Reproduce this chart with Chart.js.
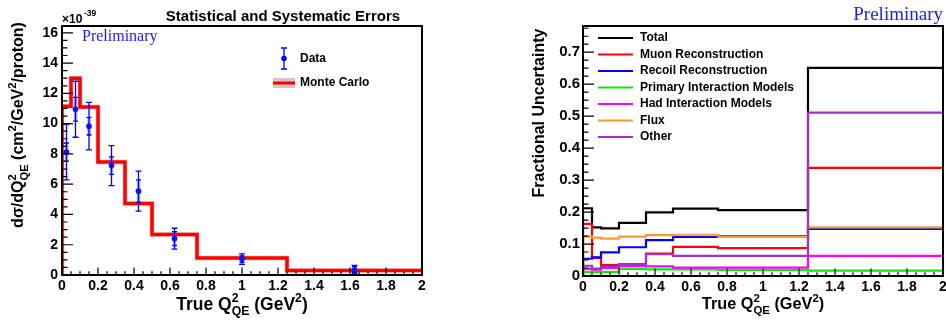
<!DOCTYPE html>
<html>
<head>
<meta charset="utf-8">
<script src="https://cdn.jsdelivr.net/npm/chart.js@4.4.0/dist/chart.umd.min.js"></script>
<style>
  html, body { margin: 0; padding: 0; background: #fff; overflow: hidden; width: 946px; height: 320px; }
  #left { position: absolute; left: 0; top: 0; }
  #right { position: absolute; left: 473px; top: 0; }
</style>
</head>
<body>
<canvas id="left" width="473" height="320"></canvas>
<canvas id="right" width="480" height="320"></canvas>
<script>
// bins in true Q2_QE (GeV^2)
var binEdges = [0, 0.05, 0.1, 0.2, 0.35, 0.5, 0.75, 1.25, 2.0];

// left: cross section, units of 1e-39 cm2/GeV2/proton
var mcXsec   = [11.15, 13.0, 11.1, 7.47, 4.73, 2.67, 1.13, 0.3];
var dataQ2   = [0.025, 0.075, 0.15, 0.275, 0.425, 0.625, 1.0, 1.625];
var dataXsec = [8.12, 10.95, 9.83, 7.23, 5.54, 2.4, 1.05, 0.35];
var totErr   = [1.83, 1.85, 1.57, 1.32, 1.32, 0.69, 0.35, 0.29];
var statErr  = [0.6, 0.78, 0.58, 0.58, 0.74, 0.46, 0.22, 0.2];

// right: fractional uncertainties per bin
var totalUnc   = [0.212, 0.152, 0.149, 0.166, 0.199, 0.211, 0.206, 0.651];
var muonUnc    = [0.163, 0.057, 0.034, 0.035, 0.070, 0.091, 0.087, 0.338];
var recoilUnc  = [0.054, 0.058, 0.074, 0.090, 0.112, 0.122, 0.125, 0.147];
var primaryUnc = [0.013, 0.013, 0.013, 0.022, 0.021, 0.021, 0.019, 0.017];
var hadUnc     = [0.022, 0.020, 0.025, 0.031, 0.030, 0.026, 0.026, 0.063];
var fluxUnc    = [0.123, 0.120, 0.117, 0.123, 0.128, 0.129, 0.123, 0.152];
var otherUnc   = [0.032, 0.023, 0.029, 0.037, 0.068, 0.063, 0.063, 0.511];

var uncNames  = ['Total', 'Muon Reconstruction', 'Recoil Reconstruction', 'Primary Interaction Models',
                 'Had Interaction Models', 'Flux', 'Other'];
var uncSeries = [totalUnc, muonUnc, recoilUnc, primaryUnc, hadUnc, fluxUnc, otherUnc];
var uncColors = ['#000000', '#ff0000', '#0000ff', '#00ee00', '#ff00ff', '#ff9933', '#9933cc'];

var xTicks = [0, 2, 0.2];

function histPoints(edges, vals) {
  var pts = [{x: edges[0], y: 0}];
  for (var i = 0; i < vals.length; i++) {
    pts.push({x: edges[i], y: vals[i]});
  }
  pts.push({x: edges[edges.length - 1], y: vals[vals.length - 1]});
  return pts;
}

function boldFont(size) {
  return 'bold ' + size + 'px "Liberation Sans", Arial, sans-serif';
}

// text with ROOT style stacked super/subscripts
function drawRich(ctx, parts, x, y, size, align) {
  var w = 0;
  parts.forEach(function(p) {
    ctx.font = boldFont(size);
    w += ctx.measureText(p.t).width;
    ctx.font = boldFont(size * 0.7);
    var ws = p.sup ? ctx.measureText(p.sup).width : 0;
    var wb = p.sub ? ctx.measureText(p.sub).width : 0;
    w += Math.max(ws, wb);
  });
  var cx = align == 'center' ? x - w / 2 : x;
  ctx.textAlign = 'left';
  ctx.textBaseline = 'alphabetic';
  parts.forEach(function(p) {
    ctx.font = boldFont(size);
    ctx.fillText(p.t, cx, y);
    cx += ctx.measureText(p.t).width;
    ctx.font = boldFont(size * 0.7);
    var ws = 0, wb = 0;
    if (p.sup) { ctx.fillText(p.sup, cx, y - size * 0.45); ws = ctx.measureText(p.sup).width; }
    if (p.sub) { ctx.fillText(p.sub, cx, y + size * 0.3); wb = ctx.measureText(p.sub).width; }
    cx += Math.max(ws, wb);
  });
}

// inward ticks + frame, like ROOT
var rootFrame = {
  id: 'rootFrame',
  afterDatasetsDraw: function(chart, args, opts) {
    var ctx = chart.ctx, a = chart.chartArea;
    var xs = chart.scales.x, ys = chart.scales.y;
    ctx.save();
    ctx.strokeStyle = '#000';
    ctx.lineWidth = 1.2;
    ctx.beginPath();
    for (var i = 0; i <= 40; i++) {
      var px = xs.getPixelForValue(i * 0.05);
      var len = i % 4 == 0 ? 7.5 : 3.8;
      ctx.moveTo(px, a.bottom);
      ctx.lineTo(px, a.bottom - len);
    }
    for (var j = 0; j <= opts.yCount; j++) {
      var v = j * opts.yMinor;
      if (v > ys.max) break;
      var py = ys.getPixelForValue(v);
      var l2 = j % 4 == 0 ? 11 : 5.5;
      ctx.moveTo(a.left, py);
      ctx.lineTo(a.left + l2, py);
    }
    ctx.stroke();
    ctx.lineWidth = 2;
    ctx.strokeRect(a.left, a.top, a.right - a.left, a.bottom - a.top);
    ctx.restore();
  }
};

var errorBars = {
  id: 'errorBars',
  afterDatasetsDraw: function(chart) {
    var ctx = chart.ctx;
    var xs = chart.scales.x, ys = chart.scales.y;
    ctx.save();
    for (var i = 0; i < dataQ2.length; i++) {
      var px = xs.getPixelForValue(dataQ2[i]);
      var t1 = ys.getPixelForValue(dataXsec[i] + totErr[i]);
      var t2 = ys.getPixelForValue(dataXsec[i] - totErr[i]);
      var s1 = ys.getPixelForValue(dataXsec[i] + statErr[i]);
      var s2 = ys.getPixelForValue(dataXsec[i] - statErr[i]);
      ctx.strokeStyle = 'rgba(70,70,255,0.45)';
      ctx.lineWidth = 3.5;
      ctx.beginPath();
      ctx.moveTo(px, s1); ctx.lineTo(px, s2);
      ctx.stroke();
      ctx.strokeStyle = '#0000ff';
      ctx.lineWidth = 1.3;
      ctx.beginPath();
      ctx.moveTo(px, t1); ctx.lineTo(px, t2);
      ctx.moveTo(px - 3, t1); ctx.lineTo(px + 3, t1);
      ctx.moveTo(px - 3, t2); ctx.lineTo(px + 3, t2);
      ctx.moveTo(px - 2.5, s1); ctx.lineTo(px + 2.5, s1);
      ctx.moveTo(px - 2.5, s2); ctx.lineTo(px + 2.5, s2);
      ctx.stroke();
    }
    ctx.restore();
  }
};

var leftText = {
  id: 'leftText',
  afterDraw: function(chart) {
    var ctx = chart.ctx;
    ctx.save();
    ctx.fillStyle = '#000';
    ctx.font = boldFont(15);
    ctx.textAlign = 'center';
    ctx.textBaseline = 'alphabetic';
    ctx.fillText('Statistical and Systematic Errors', 283, 21);

    ctx.font = boldFont(12);
    ctx.textAlign = 'left';
    ctx.fillText('\u00d710', 62, 23);
    ctx.font = boldFont(8.5);
    ctx.fillText('-39', 84, 16);

    ctx.fillStyle = '#1a1aff';
    ctx.font = '16px "Liberation Serif", serif';
    ctx.fillText('Preliminary', 82, 41);

    // legend
    ctx.fillStyle = '#0000ff';
    ctx.strokeStyle = '#0000ff';
    ctx.lineWidth = 1.3;
    ctx.beginPath();
    ctx.moveTo(284, 48); ctx.lineTo(284, 69);
    ctx.moveTo(281, 48); ctx.lineTo(287, 48);
    ctx.moveTo(281, 69); ctx.lineTo(287, 69);
    ctx.stroke();
    ctx.beginPath();
    ctx.arc(284, 58.5, 2.8, 0, Math.PI * 2);
    ctx.fill();
    ctx.fillStyle = '#e6c0c0';
    ctx.fillRect(273, 78, 22, 10);
    ctx.strokeStyle = '#ff0000';
    ctx.lineWidth = 3;
    ctx.beginPath();
    ctx.moveTo(273, 83); ctx.lineTo(295, 83);
    ctx.stroke();
    ctx.fillStyle = '#000';
    ctx.font = boldFont(12);
    ctx.textBaseline = 'middle';
    ctx.fillText('Data', 300, 59);
    ctx.fillText('Monte Carlo', 300, 83);

    drawRich(ctx, [{t: 'True Q', sup: '2', sub: 'QE'}, {t: ' (GeV', sup: '2'}, {t: ')'}], 242, 310, 17.5, 'center');

    ctx.translate(23, 125);
    ctx.rotate(-Math.PI / 2);
    drawRich(ctx, [{t: 'd\u03c3/dQ', sup: '2', sub: 'QE'}, {t: ' (cm', sup: '2'}, {t: '/GeV', sup: '2'}, {t: '/proton)'}], 0, 0, 16, 'center');
    ctx.restore();
  }
};

var rightText = {
  id: 'rightText',
  afterDraw: function(chart) {
    var ctx = chart.ctx;
    ctx.save();
    ctx.fillStyle = '#1a1aff';
    ctx.font = '19px "Liberation Serif", serif';
    ctx.textAlign = 'right';
    ctx.textBaseline = 'alphabetic';
    ctx.fillText('Preliminary', 470, 20);

    // legend
    ctx.textAlign = 'left';
    ctx.textBaseline = 'middle';
    ctx.font = boldFont(12);
    for (var i = 0; i < uncNames.length; i++) {
      var yy = 38 + i * 16.5;
      ctx.strokeStyle = uncColors[i];
      ctx.lineWidth = 2;
      ctx.beginPath();
      ctx.moveTo(125, yy); ctx.lineTo(160, yy);
      ctx.stroke();
      ctx.fillStyle = '#000';
      ctx.fillText(uncNames[i], 167, yy);
    }

    ctx.fillStyle = '#000';
    drawRich(ctx, [{t: 'True Q', sup: '2', sub: 'QE'}, {t: ' (GeV', sup: '2'}, {t: ')'}], 290, 309, 16.3, 'center');

    ctx.translate(71, 113);
    ctx.rotate(-Math.PI / 2);
    ctx.font = boldFont(16);
    ctx.textAlign = 'center';
    ctx.textBaseline = 'alphabetic';
    ctx.fillText('Fractional Uncertainty', 0, 0);
    ctx.restore();
  }
};

function xScale(h) {
  return {
    type: 'linear', min: xTicks[0], max: xTicks[1],
    grid: {display: false, drawTicks: false},
    border: {display: false},
    afterFit: function(s) { s.height = h; },
    ticks: {
      stepSize: xTicks[2], autoSkip: false, maxRotation: 0, padding: 3,
      color: '#000', font: {family: 'Liberation Sans', weight: 'bold', size: 14},
      callback: function(v) { return String(Math.round(v * 10) / 10); }
    }
  };
}

Chart.defaults.animation = false;

new Chart(document.getElementById('left'), {
  type: 'line',
  data: {
    datasets: [{
      data: dataQ2.map(function(q, i) { return {x: q, y: dataXsec[i]}; }),
      showLine: false, pointRadius: 2.8, pointBackgroundColor: '#0000ff', pointBorderWidth: 0, order: 0
    }, {
      data: histPoints(binEdges, mcXsec), stepped: true,
      borderColor: '#ff0000', borderWidth: 3.5, pointRadius: 0, fill: false, order: 1
    }, {
      data: histPoints(binEdges, mcXsec), stepped: true,
      borderColor: 'rgba(230,170,170,0.5)', borderWidth: 5, pointRadius: 0, fill: false, order: 2
    }]
  },
  options: {
    responsive: false,
    events: [],
    layout: {padding: {top: 26, right: 51, left: 0, bottom: 0}},
    plugins: {
      legend: {display: false}, tooltip: {enabled: false},
      rootFrame: {yMinor: 0.5, yCount: 40}
    },
    scales: {
      x: xScale(45),
      y: {
        min: 0, max: 16.45,
        grid: {display: false, drawTicks: false},
        border: {display: false},
        afterFit: function(s) { s.width = 62; },
        ticks: {
          stepSize: 2, includeBounds: false, padding: 4,
          color: '#000', font: {family: 'Liberation Sans', weight: 'bold', size: 14}
        }
      }
    }
  },
  plugins: [errorBars, rootFrame, leftText]
});

new Chart(document.getElementById('right'), {
  type: 'line',
  data: {
    datasets: uncSeries.map(function(vals, i) {
      return {
        label: uncNames[i],
        data: histPoints(binEdges, vals), stepped: true,
        borderColor: uncColors[i], borderWidth: 2.2, pointRadius: 0, fill: false,
        order: uncSeries.length - i
      };
    })
  },
  options: {
    responsive: false,
    events: [],
    layout: {padding: {top: 26, right: 10, left: 0, bottom: 0}},
    plugins: {
      legend: {display: false}, tooltip: {enabled: false},
      rootFrame: {yMinor: 0.025, yCount: 40}
    },
    scales: {
      x: xScale(44),
      y: {
        min: 0, max: 0.782,
        grid: {display: false, drawTicks: false},
        border: {display: false},
        afterFit: function(s) { s.width = 110; },
        ticks: {
          stepSize: 0.1, includeBounds: false, padding: 3,
          color: '#000', font: {family: 'Liberation Sans', weight: 'bold', size: 15},
          callback: function(v) { return v == 0 ? '0' : v.toFixed(1); }
        }
      }
    }
  },
  plugins: [rootFrame, rightText]
});
</script>
</body>
</html>
